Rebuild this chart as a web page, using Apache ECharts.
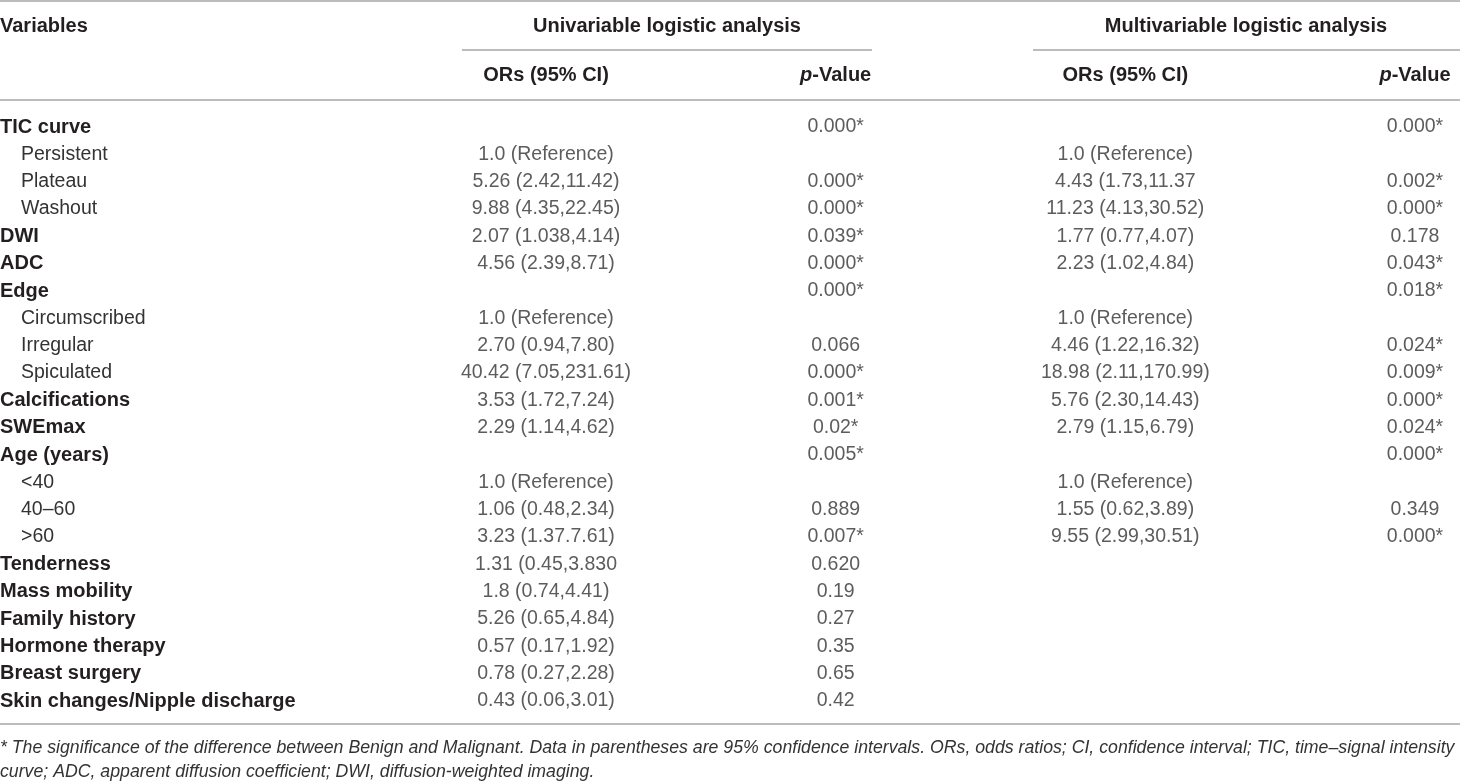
<!DOCTYPE html>
<html>
<head>
<meta charset="utf-8">
<title>Logistic analysis table</title>
<script src="https://cdn.jsdelivr.net/npm/echarts@6/dist/echarts.min.js"></script>
<style>
  html, body { margin: 0; padding: 0; background: #fff; }
  #main { width: 1460px; height: 782px; }
</style>
</head>
<body>
<div id="main"></div>
<script>
// rows of the table, top to bottom
var rowNames = [
  'TIC curve', 'Persistent', 'Plateau', 'Washout', 'DWI', 'ADC', 'Edge',
  'Circumscribed', 'Irregular', 'Spiculated', 'Calcifications', 'SWEmax',
  'Age (years)', '<40', '40–60', '>60', 'Tenderness', 'Mass mobility',
  'Family history', 'Hormone therapy', 'Breast surgery', 'Skin changes/Nipple discharge'
];
// 0 = variable, 1 = sub level of the variable above
var rowLevel = [0, 1, 1, 1, 0, 0, 0, 1, 1, 1, 0, 0, 0, 1, 1, 1, 0, 0, 0, 0, 0, 0];

var uniOR = [
  '', '1.0 (Reference)', '5.26 (2.42,11.42)', '9.88 (4.35,22.45)', '2.07 (1.038,4.14)',
  '4.56 (2.39,8.71)', '', '1.0 (Reference)', '2.70 (0.94,7.80)', '40.42 (7.05,231.61)',
  '3.53 (1.72,7.24)', '2.29 (1.14,4.62)', '', '1.0 (Reference)', '1.06 (0.48,2.34)',
  '3.23 (1.37.7.61)', '1.31 (0.45,3.830', '1.8 (0.74,4.41)', '5.26 (0.65,4.84)',
  '0.57 (0.17,1.92)', '0.78 (0.27,2.28)', '0.43 (0.06,3.01)'
];
var uniP = [
  '0.000*', '', '0.000*', '0.000*', '0.039*', '0.000*', '0.000*', '', '0.066', '0.000*',
  '0.001*', '0.02*', '0.005*', '', '0.889', '0.007*', '0.620', '0.19', '0.27', '0.35',
  '0.65', '0.42'
];
var multiOR = [
  '', '1.0 (Reference)', '4.43 (1.73,11.37', '11.23 (4.13,30.52)', '1.77 (0.77,4.07)',
  '2.23 (1.02,4.84)', '', '1.0 (Reference)', '4.46 (1.22,16.32)', '18.98 (2.11,170.99)',
  '5.76 (2.30,14.43)', '2.79 (1.15,6.79)', '', '1.0 (Reference)', '1.55 (0.62,3.89)',
  '9.55 (2.99,30.51)', '', '', '', '', '', ''
];
var multiP = [
  '0.000*', '', '0.002*', '0.000*', '0.178', '0.043*', '0.018*', '', '0.024*', '0.009*',
  '0.000*', '0.024*', '0.000*', '', '0.349', '0.000*', '', '', '', '', '', ''
];

var columns = ['uniOR', 'uniP', 'multiOR', 'multiP'];
var columnHeaders = ['ORs (95% CI)', 'p-Value', 'ORs (95% CI)', 'p-Value'];
var groupHeaders = ['Univariable logistic analysis', 'Multivariable logistic analysis'];
var footnote = [
  '* The significance of the difference between Benign and Malignant. Data in parentheses are 95% confidence intervals. ORs, odds ratios; CI, confidence interval; TIC, time–signal intensity',
  'curve; ADC, apparent diffusion coefficient; DWI, diffusion-weighted imaging.'
];

var FONT = '"Liberation Sans", Arial, Helvetica, sans-serif';
var INK = '#231f20';
var BODY = '#333333';
var RULE = '#a6a6a6';

// fit the first footnote line to the table width
function fitSize(text, style, width) {
  var ctx = document.createElement('canvas').getContext('2d');
  ctx.font = style + ' 100px ' + FONT;
  return 100 * width / ctx.measureText(text).width;
}
var noteSize = fitSize(footnote[0], 'italic', 1456);

var cellData = [uniOR, uniP, multiOR, multiP];

function buildSeries(colIdx) {
  var values = cellData[colIdx];
  var data = [];
  values.forEach(function (txt, i) {
    if (txt !== '') data.push([columns[colIdx], rowNames[i], txt]);
  });
  return {
    type: 'scatter',
    name: columns[colIdx],
    symbolSize: 1,
    itemStyle: { color: 'rgba(0,0,0,0)' },
    silent: true,
    label: {
      show: true,
      position: 'inside',
      formatter: function (p) { return p.value[2]; },
      fontFamily: FONT,
      fontSize: 19.5,
      color: BODY
    },
    data: data
  };
}

function rule(x1, x2, y) {
  return {
    type: 'line',
    shape: { x1: x1, y1: y, x2: x2, y2: y },
    style: { stroke: RULE, lineWidth: 1.5 },
    silent: true
  };
}
function headText(text, x, y, align) {
  return {
    type: 'text',
    x: x, y: y,
    style: {
      text: text, font: 'bold 20px ' + FONT, fill: INK,
      align: align, verticalAlign: 'middle'
    },
    silent: true
  };
}

var chart = echarts.init(document.getElementById('main'), null, { renderer: 'canvas' });

var option = {
  animation: false,
  backgroundColor: '#ffffff',
  grid: {
    left: 546, right: 45, top: 127, bottom: 81,
    containLabel: false,
    outerBoundsMode: 'none'
  },
  xAxis: {
    type: 'category',
    position: 'top',
    data: columns,
    boundaryGap: false,
    axisLine: { show: false },
    axisTick: { show: false },
    splitLine: { show: false },
    axisLabel: {
      interval: 0,
      margin: 52,
      verticalAlign: 'middle',
      formatter: function (v, i) {
        var h = columnHeaders[i];
        if (h.indexOf('p-') === 0) return '{pi|p}{hb|' + h.slice(1) + '}';
        return '{hb|' + h + '}';
      },
      rich: {
        hb: { fontFamily: FONT, fontSize: 20, fontWeight: 'bold', color: INK },
        pi: { fontFamily: FONT, fontSize: 20, fontWeight: 'bold', fontStyle: 'italic', color: INK }
      }
    }
  },
  yAxis: {
    type: 'category',
    data: rowNames,
    inverse: true,
    boundaryGap: false,
    axisLine: { show: false },
    axisTick: { show: false },
    splitLine: { show: false },
    axisLabel: {
      interval: 0,
      align: 'left',
      margin: 546,
      formatter: function (v, i) {
        return rowLevel[i] ? '{s|' + v + '}' : '{m|' + v + '}';
      },
      rich: {
        m: { fontFamily: FONT, fontSize: 20, fontWeight: 'bold', color: INK },
        s: { fontFamily: FONT, fontSize: 19.5, color: BODY, padding: [0, 0, 0, 21] }
      }
    }
  },
  series: columns.map(function (c, i) { return buildSeries(i); }),
  graphic: [
    rule(0, 1460, 1),
    rule(462, 872, 50),
    rule(1033, 1460, 50),
    rule(0, 1460, 100),
    rule(0, 1460, 724),
    headText('Variables', 0, 26, 'left'),
    headText(groupHeaders[0], 667, 26, 'center'),
    headText(groupHeaders[1], 1246, 26, 'center'),
    {
      type: 'text', x: 0, y: 748, silent: true,
      style: { text: footnote[0], font: 'italic ' + noteSize.toFixed(2) + 'px ' + FONT,
               fill: BODY, verticalAlign: 'middle' }
    },
    {
      type: 'text', x: 0, y: 772, silent: true,
      style: { text: footnote[1], font: 'italic ' + noteSize.toFixed(2) + 'px ' + FONT,
               fill: BODY, verticalAlign: 'middle' }
    }
  ]
};

chart.setOption(option);
</script>
</body>
</html>
